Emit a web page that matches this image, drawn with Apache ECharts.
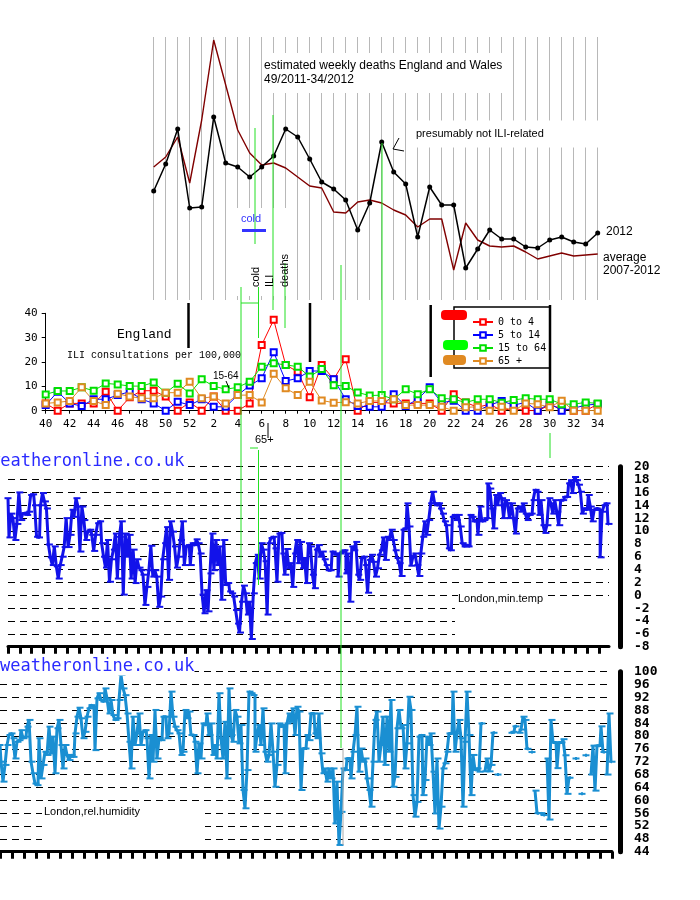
<!DOCTYPE html>
<html>
<head>
<meta charset="utf-8">
<script src="https://cdn.jsdelivr.net/npm/echarts@6/dist/echarts.min.js"></script>
<style>
html, body { margin: 0; padding: 0; background: #fff; }
#chart { width: 700px; height: 900px; }
</style>
</head>
<body>
<div id="chart"></div>
<script>
const MONO = '"DejaVu Sans Mono", monospace'
const CMONO = '"Liberation Mono", monospace'
const SANS = '"Liberation Sans", Arial, sans-serif'

// ISO weeks 40/2011 .. 34/2012
const weekLabels = ['40','41','42','43','44','45','46','47','48','49','50','51','52',
  '1','2','3','4','5','6','7','8','9','10','11','12','13','14','15','16','17','18','19','20',
  '21','22','23','24','25','26','27','28','29','30','31','32','33','34']

// estimated weekly deaths, England and Wales (from week 49/2011)
const deaths2012 = [null,null,null,null,null,null,null,null,null,
  9440,9980,10680,9100,9120,10920,10000,9920,9720,9920,
  10140,10680,10520,10080,9620,9480,9260,8660,9200,10420,
  9820,9580,8520,9520,9160,9160,7900,8280,8660,8480,
  8480,8320,8300,8460,8520,8420,8380,8600]
const deathsAvg = [null,null,null,null,null,null,null,null,null,
  9920,10120,10520,9600,10860,12460,11560,10660,10200,9960,
  10000,9900,9720,9540,9500,9020,9000,9220,9260,9200,
  9060,8960,8720,8880,8880,7860,8800,8460,8340,8320,
  8340,8220,8080,8140,8200,8140,8160,8180]

// ILI consultations per 100,000, England
const ili0to4 = [3.0,0,3.0,3.0,3.0,7.8,0,5.5,8.2,8.2,5.8,0,3.4,0,5.8,0,0,3.0,27.0,37.3,
  18.8,16.0,5.5,18.8,12.9,21.1,0,3.4,3.4,3.0,3.0,3.0,3.0,0,6.8,3.4,1.4,2.7,0,1.0,
  0,0,2.3,1.0,0,0,2.7]
const ili5to14 = [2.3,7.8,3.0,1.9,4.7,4.7,6.4,7.8,4.7,3.0,0,3.7,2.3,4.7,1.6,1.6,6.4,10.3,13.3,24.0,
  12.2,13.3,16.3,16.3,12.9,4.7,1.9,1.6,1.6,6.8,1.9,4.7,9.6,3.3,4.1,0,0,2.3,4.0,2.3,
  3.4,0,3.0,0,1.0,2.3,2.7]
const ili15to64 = [6.7,8.1,8.1,9.6,8.2,11.2,10.8,10.1,10.1,11.6,7.4,11.1,7.1,12.9,10.1,8.8,9.6,11.9,18.1,19.5,
  18.8,18.1,14.0,17.1,10.5,10.1,7.5,6.2,6.4,4.7,8.8,6.8,8.8,5.1,4.7,3.4,4.7,4.7,3.3,4.4,
  5.1,4.7,4.7,2.7,2.7,3.4,3.0]
const ili65plus = [3.0,3.4,4.0,9.6,4.0,2.3,7.0,5.8,5.1,5.1,7.4,7.4,11.9,5.1,5.8,3.0,6.4,6.4,3.4,15.2,
  9.2,6.4,11.9,4.2,3.3,3.5,3.0,4.0,4.0,4.7,2.3,2.3,2.3,1.6,0,1.4,1.6,0,1.6,0,
  3.0,2.7,1.4,4.1,0,0,0]

// London daily minimum temperature (weatheronline)
const minTemp = [
  15.1,9.0,12.7,12.0,8.6,11.1,16.0,11.7,12.7,12.8,
  12.5,13.0,15.6,15.7,14.0,9.1,9.0,14.0,15.9,14.6,
  13.5,7.9,5.9,4.7,7.6,4.5,2.6,4.7,6.0,7.5,
  12.0,7.5,9.4,13.3,12.2,15.1,13.8,6.8,13.8,11.7,
  8.6,9.9,10.2,9.4,6.9,9.4,11.2,11.5,8.1,6.0,
  4.3,8.6,2.1,5.6,7.1,9.6,2.6,9.1,11.5,0.1,
  9.6,6.0,9.4,2.6,7.1,1.9,5.6,4.3,3.9,3.2,
  -1.5,1.3,3.9,7.7,2.9,3.9,2.9,-1.8,-0.2,5.6,
  8.1,10.6,2.4,11.5,9.9,7.6,4.3,6.0,8.6,11.5,
  4.7,7.6,7.8,4.7,8.1,7.8,8.7,8.1,6.5,0.1,
  -2.8,0.8,-2.5,3.4,9.6,3.9,8.6,4.7,7.6,-0.7,
  8.6,1.6,1.9,0.6,0.3,-0.2,-2.3,-4.4,-5.8,-1.0,
  1.5,0.3,-3.0,-1.0,-6.8,0.3,5.0,6.3,2.6,8.1,
  7.1,5.3,-3.0,8.1,8.9,9.1,7.3,2.1,9.6,9.7,
  6.5,3.2,7.2,4.2,5.0,1.3,6.5,8.6,5.0,8.3,
  4.2,5.8,1.9,8.1,7.6,3.2,1.1,7.1,7.8,6.0,
  6.8,5.6,4.7,3.9,3.9,6.8,6.5,6.3,2.9,6.5,
  6.8,7.0,3.4,6.5,-1.0,7.6,7.0,8.3,3.2,2.4,
  5.8,6.0,4.7,0.4,5.5,6.3,5.2,2.9,4.2,6.3,
  7.0,9.0,5.5,9.1,8.6,10.2,8.6,7.0,5.8,5.0,
  3.0,10.2,10.4,14.3,10.7,4.6,6.0,6.5,4.7,3.0,
  6.5,9.1,11.5,9.4,11.7,14.3,16.1,14.3,14.0,14.3,
  13.5,12.7,11.5,10.9,7.3,7.0,12.2,12.5,11.7,12.5,
  10.7,8.1,7.6,7.8,7.6,12.5,12.2,11.5,11.7,9.4,
  13.8,11.5,11.7,12.0,17.4,16.6,13.5,10.4,15.6,14.0,
  15.9,15.1,12.0,14.8,14.3,12.0,14.3,12.0,9.6,13.5,
  13.8,13.0,14.3,12.7,11.7,12.5,12.7,14.8,16.4,16.1,
  12.5,14.8,10.9,9.7,10.9,15.1,14.3,12.7,14.8,13.0,
  10.9,14.8,14.8,15.3,15.3,17.4,17.9,15.9,18.4,17.9,
  17.2,16.1,12.7,13.5,13.3,15.6,13.8,11.5,13.3,13.5,
  13.3,5.9,13.0,14.0,14.3,11.1]

// London daily relative humidity (weatheronline)
const relHumidity = [
  77.2,72.0,65.8,71.0,77.2,80.3,80.8,79.3,73.0,78.2,
  78.7,81.8,79.3,79.8,82.9,85.0,72.0,68.4,65.2,64.7,
  79.3,66.8,71.0,75.1,74.1,82.9,74.6,79.8,68.4,82.4,
  85.0,77.2,69.9,77.2,74.1,72.5,74.1,73.5,80.8,86.0,
  88.8,85.5,79.3,81.3,86.0,88.6,89.6,89.1,75.6,91.7,
  93.3,91.2,90.7,94.8,91.7,87.0,91.2,86.5,85.0,85.5,
  91.2,99.0,94.8,92.7,87.0,78.2,69.9,86.0,77.2,80.8,
  87.0,77.2,81.3,81.8,79.3,66.8,80.3,72.0,88.1,73.0,
  79.3,78.7,86.0,86.0,79.3,80.8,93.8,86.0,82.9,81.8,
  80.8,74.1,75.1,88.1,85.5,87.6,80.3,80.3,78.2,68.4,
  77.7,73.0,83.9,83.4,87.0,80.3,83.9,74.1,77.2,73.0,
  93.3,79.3,73.0,84.4,66.8,94.8,80.3,78.2,88.1,86.0,
  77.7,83.4,63.2,57.5,69.4,93.8,93.3,92.7,75.1,80.3,
  83.4,77.2,88.6,75.1,72.0,74.1,83.9,75.1,64.2,71.0,
  83.9,82.9,83.4,68.4,83.9,87.0,84.4,88.6,80.3,89.1,
  87.6,63.2,76.1,76.1,80.3,78.7,87.0,87.0,80.8,79.3,
  87.0,74.6,68.4,69.9,65.8,69.9,66.8,69.9,52.8,65.8,
  46.1,56.4,69.9,69.4,73.0,
  73.0,66.8,75.1,80.3,89.1,68.9,76.1,72.0,73.0,66.8,
  63.2,58.0,72.0,85.0,87.6,72.0,77.2,86.0,71.0,86.0,
  75.1,91.2,64.2,67.3,82.4,88.1,82.4,83.4,69.9,77.7,
  92.2,88.1,61.6,54.9,59.5,79.8,80.3,61.6,66.3,79.8,
  77.2,80.8,68.9,55.9,73.0,51.2,58.0,69.9,71.5,75.1,
  80.8,80.8,93.8,75.1,80.8,85.0,79.3,58.0,78.2,93.8,
  80.3,61.6,74.1,69.4,69.9,68.9,83.9,
  null,69,73,69,71,81,null,68,null,null,
  null,null,null,null,81,81.3,83,null,81,82,
  86,85,76,null,75,null,63,56,null,56,
  55.4,null,73,54,85,78,78,70,78,78,
  79,74,62,67,null,null,73,null,null,62,
  null,74,null,null,68,77,63,77,77,83,
  75,null,68,87,72]

const tempDays = minTemp.map((v, i) => 'd' + i)
const humDays = relHumidity.map((v, i) => 'd' + i)

function vline(x, y1, y2, color, w) {
  return { type: 'line', shape: { x1: x, y1: y1, x2: x, y2: y2 }, style: { stroke: color, lineWidth: w || 1 }, z: 6 }
}
function label(x, y, text, font, fill, extra) {
  return Object.assign({ type: 'text', x: x, y: y, z: 7,
    style: Object.assign({ text: text, font: font, fill: fill || '#000', textVerticalAlign: 'middle', verticalAlign: 'middle' }, extra || {}) })
}
const GREEN = '#22e022'

const graphics = [
  // white patches where the source hides grid lines
  { type: 'rect', shape: { x: 237, y: 208, width: 55, height: 88 }, style: { fill: '#fff' }, z: 5 },
  { type: 'rect', shape: { x: 455, y: 602, width: 157, height: 40 }, style: { fill: '#fff' }, z: 5 },
  { type: 'rect', shape: { x: 42, y: 806, width: 163, height: 40 }, style: { fill: '#fff' }, z: 5 },
  // annotation lines
  vline(255, 128, 244, GREEN), vline(273, 115, 310, GREEN), vline(285, 263, 328, GREEN),
  vline(241, 287, 583, GREEN), vline(258.5, 287, 338, GREEN), vline(258.5, 450, 585, GREEN),
  vline(341, 265, 748, GREEN), vline(382, 143, 395, GREEN), vline(550, 433, 458, GREEN),
  vline(343, 748, 845, '#aaa'),
  { type: 'line', shape: { x1: 241, y1: 303, x2: 258, y2: 303 }, style: { stroke: GREEN, lineWidth: 1 }, z: 6 },
  { type: 'line', shape: { x1: 250, y1: 448, x2: 258, y2: 448 }, style: { stroke: GREEN, lineWidth: 1 }, z: 6 },
  vline(188.5, 303, 348, '#000', 2.5), vline(310, 303, 362, '#000', 2.5),
  vline(430.7, 305, 377, '#000', 2.5), vline(550, 305, 392, '#000', 2.5),
  vline(268, 423, 438, '#000', 1),
  { type: 'line', shape: { x1: 226, y1: 381, x2: 229, y2: 388 }, style: { stroke: '#000', lineWidth: 1 }, z: 6 },
  // deaths panel texts
  label(262, 73, 'estimated weekly deaths England and Wales\n49/2011-34/2012', '12px ' + SANS, '#000',
    { backgroundColor: '#fff', padding: [6, 10, 6, 2], lineHeight: 14 }),
  label(414, 134, 'presumably not ILI-related', '11px ' + SANS, '#000', { backgroundColor: '#fff', padding: [8, 190, 8, 2] }),
  { type: 'polyline', shape: { points: [[399, 138], [393, 149], [404, 151]] }, style: { stroke: '#000', lineWidth: 1, fill: null }, z: 7 },
  label(606, 232, '2012', '12px ' + SANS),
  label(603, 258, 'average', '12px ' + SANS),
  label(603, 271, '2007-2012', '12px ' + SANS),
  label(241, 219, 'cold', '11px ' + SANS, '#3333ff'),
  { type: 'rect', shape: { x: 242, y: 229, width: 24, height: 3 }, style: { fill: '#3333ff' }, z: 7 },
  label(256, 287, 'cold', '11px ' + SANS, '#000', { textAlign: 'left', align: 'left' }),
  label(270, 287, 'ILI', '11px ' + SANS, '#000', { textAlign: 'left', align: 'left' }),
  label(285, 287, 'deaths', '11px ' + SANS, '#000', { textAlign: 'left', align: 'left' }),
  // ILI panel texts
  label(117, 335, 'England', '13px ' + CMONO),
  label(67, 355, 'ILI consultations per 100,000', '10px ' + CMONO),
  label(213, 376, '15-64', '10px ' + SANS),
  label(255, 440, '65+', '11px ' + SANS),
  // legend box
  { type: 'rect', shape: { x: 454, y: 307, width: 96, height: 61 }, style: { fill: '#fff', stroke: '#000', lineWidth: 1.5 }, z: 5 },
  { type: 'rect', shape: { x: 441, y: 310, width: 26, height: 10, r: 4 }, style: { fill: '#ff0000' }, z: 6 },
  { type: 'rect', shape: { x: 443, y: 340, width: 25, height: 10, r: 4 }, style: { fill: '#00ff00' }, z: 6 },
  { type: 'rect', shape: { x: 443, y: 355, width: 23, height: 10, r: 4 }, style: { fill: '#e08a22' }, z: 6 },
  // weather panel texts
  label(-10, 462, 'weatheronline.co.uk', '17px ' + MONO, '#2a2aff', { backgroundColor: '#fff' }),
  label(0, 667, 'weatheronline.co.uk', '17px ' + MONO, '#2a2aff', { backgroundColor: '#fff' }),
  label(458, 599, 'London,min.temp', '11px ' + SANS, '#000', { backgroundColor: '#fff' }),
  label(44, 812, 'London,rel.humidity', '11px ' + SANS, '#000', { backgroundColor: '#fff' })
]
// vertical labels
graphics.filter(g => g.style && (g.style.text === 'ILI' || g.style.text === 'deaths' || (g.style.text === 'cold' && g.x === 256)))
  .forEach(g => { g.rotation = Math.PI / 2 })

const dailyAxis = (grid, data) => ({
  gridIndex: grid, type: 'category', data: data, boundaryGap: false,
  axisLine: { onZero: false, lineStyle: { color: '#000', width: 3 } },
  axisTick: { interval: 5, length: 7, lineStyle: { color: '#000', width: 3 } },
  axisLabel: { show: false }, splitLine: { show: false }
})
const rightAxis = (grid, min, max, step, offset) => ({
  gridIndex: grid, type: 'value', position: 'right', offset: offset, min: min, max: max, interval: step,
  axisLine: { show: true, lineStyle: { color: '#000', width: 5 } },
  axisTick: { show: false },
  axisLabel: { color: '#000', fontFamily: MONO, fontWeight: 'bold', fontSize: 13, lineHeight: 12,
    margin: 14, showMinLabel: true, showMaxLabel: true, hideOverlap: false },
  splitLine: { show: true, lineStyle: { color: '#000', width: 1, type: [7, 5] } }
})
const iliSeries = (name, data, color) => ({
  name: name, type: 'line', xAxisIndex: 1, yAxisIndex: 1, data: data,
  symbol: 'emptyRect', symbolSize: 6, itemStyle: { color: color }, lineStyle: { color: color, width: 1 }, z: 3
})
const dailySeries = (name, axis, data, color) => ({
  name: name, type: 'line', xAxisIndex: axis, yAxisIndex: axis, data: data, step: 'middle',
  showAllSymbol: true, symbol: 'rect', symbolSize: [7, 2],
  itemStyle: { color: color }, lineStyle: { color: color, width: 3 }
})

const option = {
  backgroundColor: '#fff',
  animation: false,
  textStyle: { fontFamily: SANS },
  grid: [
    { left: 45.7, right: 102.3, top: 37, height: 263 },
    { left: 45.7, right: 102.3, top: 313.3, height: 97.4 },
    { left: 8, right: 91, top: 466.7, height: 180 },
    { left: 0, right: 88, top: 671.7, height: 180 }
  ],
  legend: {
    data: ['0 to 4', '5 to 14', '15 to 64', '65 +'], orient: 'vertical', left: 467, top: 311,
    itemWidth: 20, itemHeight: 7, itemGap: 1, selectedMode: false, z: 10,
    textStyle: { fontFamily: MONO, fontSize: 10, color: '#000', lineHeight: 12 }
  },
  xAxis: [
    { gridIndex: 0, type: 'category', data: weekLabels, boundaryGap: false,
      axisLine: { show: false }, axisTick: { show: false }, axisLabel: { show: false },
      splitLine: { show: true, interval: (i) => i >= 9, lineStyle: { color: '#b8b8b8', width: 1 } } },
    { gridIndex: 1, type: 'category', data: weekLabels, boundaryGap: false,
      axisLine: { lineStyle: { color: '#000', width: 1 } },
      axisTick: { interval: 0, length: 3, lineStyle: { color: '#000' } },
      axisLabel: { interval: 1, color: '#000', fontFamily: MONO, fontSize: 11, margin: 8 },
      splitLine: { show: false } },
    dailyAxis(2, tempDays),
    dailyAxis(3, humDays)
  ],
  yAxis: [
    { gridIndex: 0, type: 'value', min: 7260, max: 12520, show: false },
    { gridIndex: 1, type: 'value', min: 0, max: 40, interval: 10,
      axisLine: { show: true, lineStyle: { color: '#000' } },
      axisTick: { show: true, length: 4, lineStyle: { color: '#000' } },
      axisLabel: { color: '#000', fontFamily: MONO, fontSize: 11, margin: 8 },
      splitLine: { show: false } },
    rightAxis(2, -8, 20, 2, 11),
    rightAxis(3, 44, 100, 4, 8)
  ],
  series: [
    { name: '2012', type: 'line', xAxisIndex: 0, yAxisIndex: 0, data: deaths2012,
      symbol: 'circle', symbolSize: 5, itemStyle: { color: '#000' }, lineStyle: { color: '#000', width: 1.5 }, z: 4 },
    { name: 'average 2007-2012', type: 'line', xAxisIndex: 0, yAxisIndex: 0, data: deathsAvg,
      symbol: 'none', lineStyle: { color: '#800000', width: 1.4 }, z: 3 },
    iliSeries('0 to 4', ili0to4, '#ff0000'),
    iliSeries('5 to 14', ili5to14, '#0000ff'),
    iliSeries('15 to 64', ili15to64, '#00e000'),
    iliSeries('65 +', ili65plus, '#e08a22'),
    dailySeries('London min. temp', 2, minTemp, '#1212ea'),
    dailySeries('London rel. humidity', 3, relHumidity, '#1a8fd2')
  ],
  graphic: graphics
}

const myChart = echarts.init(document.getElementById('chart'))
myChart.setOption(option)
window.addEventListener('resize', () => {
  myChart.resize()
})
</script>
</body>
</html>
